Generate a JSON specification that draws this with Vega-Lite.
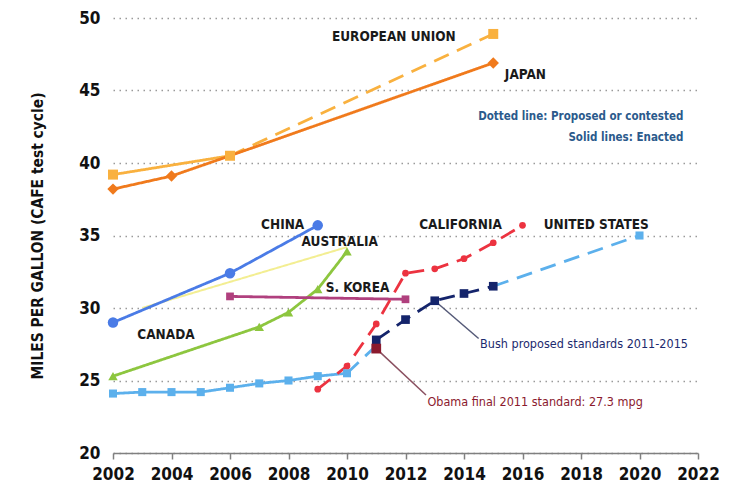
{
  "$schema": "https://vega.github.io/schema/vega-lite/v6.json",
  "width": 585,
  "height": 435,
  "autosize": "none",
  "padding": {"left": 113, "top": 18, "right": 38, "bottom": 43},
  "background": "white",
  "config": {
    "view": {"stroke": null},
    "font": "DejaVu Sans Condensed, Liberation Sans, sans-serif"
  },
  "datasets": {
    "lines": [
      {"s": "EU", "g": "EU1", "d": "solid", "year": 2002, "mpg": 39.2},
      {"s": "EU", "g": "EU1", "d": "solid", "year": 2006, "mpg": 40.5},
      {"s": "EU", "g": "EU2", "d": "dashed", "year": 2006, "mpg": 40.5},
      {"s": "EU", "g": "EU2", "d": "dashed", "year": 2015, "mpg": 48.9},
      {"s": "Japan", "g": "JP", "d": "solid", "year": 2002, "mpg": 38.2},
      {"s": "Japan", "g": "JP", "d": "solid", "year": 2004, "mpg": 39.1},
      {"s": "Japan", "g": "JP", "d": "solid", "year": 2006, "mpg": 40.5},
      {"s": "Japan", "g": "JP", "d": "solid", "year": 2015, "mpg": 46.9},
      {"s": "Australia", "g": "AU", "d": "solid", "year": 2003, "mpg": 30.0},
      {"s": "Australia", "g": "AU", "d": "solid", "year": 2010, "mpg": 34.2},
      {"s": "China", "g": "CN", "d": "solid", "year": 2002, "mpg": 29.0},
      {"s": "China", "g": "CN", "d": "solid", "year": 2006, "mpg": 32.4},
      {"s": "China", "g": "CN", "d": "solid", "year": 2009, "mpg": 35.7},
      {"s": "Canada", "g": "CA", "d": "solid", "year": 2002, "mpg": 25.3},
      {"s": "Canada", "g": "CA", "d": "solid", "year": 2007, "mpg": 28.7},
      {"s": "Canada", "g": "CA", "d": "solid", "year": 2008, "mpg": 29.7},
      {"s": "Canada", "g": "CA", "d": "solid", "year": 2009, "mpg": 31.3},
      {"s": "Canada", "g": "CA", "d": "solid", "year": 2010, "mpg": 33.9},
      {"s": "SKorea", "g": "KR", "d": "solid", "year": 2006, "mpg": 30.8},
      {"s": "SKorea", "g": "KR", "d": "solid", "year": 2012, "mpg": 30.6},
      {"s": "US", "g": "US1", "d": "solid", "year": 2002, "mpg": 24.1},
      {"s": "US", "g": "US1", "d": "solid", "year": 2003, "mpg": 24.2},
      {"s": "US", "g": "US1", "d": "solid", "year": 2004, "mpg": 24.2},
      {"s": "US", "g": "US1", "d": "solid", "year": 2005, "mpg": 24.2},
      {"s": "US", "g": "US1", "d": "solid", "year": 2006, "mpg": 24.5},
      {"s": "US", "g": "US1", "d": "solid", "year": 2007, "mpg": 24.8},
      {"s": "US", "g": "US1", "d": "solid", "year": 2008, "mpg": 25.0},
      {"s": "US", "g": "US1", "d": "solid", "year": 2009, "mpg": 25.3},
      {"s": "US", "g": "US1", "d": "solid", "year": 2010, "mpg": 25.5},
      {"s": "US", "g": "US2", "d": "dashed", "year": 2010, "mpg": 25.5},
      {"s": "US", "g": "US2", "d": "dashed", "year": 2011, "mpg": 27.4},
      {"s": "US", "g": "US3", "d": "dashed", "year": 2015, "mpg": 31.5},
      {"s": "US", "g": "US3", "d": "dashed", "year": 2020, "mpg": 35.0},
      {"s": "Bush", "g": "BU", "d": "dashed", "year": 2011, "mpg": 27.8},
      {"s": "Bush", "g": "BU", "d": "dashed", "year": 2012, "mpg": 29.2},
      {"s": "Bush", "g": "BU", "d": "dashed", "year": 2013, "mpg": 30.5},
      {"s": "Bush", "g": "BU", "d": "dashed", "year": 2014, "mpg": 31.0},
      {"s": "Bush", "g": "BU", "d": "dashed", "year": 2015, "mpg": 31.5},
      {"s": "California", "g": "CAL", "d": "dashed", "year": 2009, "mpg": 24.4},
      {"s": "California", "g": "CAL", "d": "dashed", "year": 2010, "mpg": 26.0},
      {"s": "California", "g": "CAL", "d": "dashed", "year": 2011, "mpg": 28.9},
      {"s": "California", "g": "CAL", "d": "dashed", "year": 2012, "mpg": 32.4},
      {"s": "California", "g": "CAL", "d": "dashed", "year": 2013, "mpg": 32.7},
      {"s": "California", "g": "CAL", "d": "dashed", "year": 2014, "mpg": 33.4},
      {"s": "California", "g": "CAL", "d": "dashed", "year": 2015, "mpg": 34.5},
      {"s": "California", "g": "CAL", "d": "dashed", "year": 2016, "mpg": 35.7}
    ],
    "points": [
      {"s": "EU", "year": 2002, "mpg": 39.2},
      {"s": "EU", "year": 2006, "mpg": 40.5},
      {"s": "EU", "year": 2015, "mpg": 48.9},
      {"s": "Japan", "year": 2002, "mpg": 38.2},
      {"s": "Japan", "year": 2004, "mpg": 39.1},
      {"s": "Japan", "year": 2015, "mpg": 46.9},
      {"s": "China", "year": 2002, "mpg": 29.0},
      {"s": "China", "year": 2006, "mpg": 32.4},
      {"s": "China", "year": 2009, "mpg": 35.7},
      {"s": "Canada", "year": 2002, "mpg": 25.3},
      {"s": "Canada", "year": 2007, "mpg": 28.7},
      {"s": "Canada", "year": 2008, "mpg": 29.7},
      {"s": "Canada", "year": 2009, "mpg": 31.3},
      {"s": "Canada", "year": 2010, "mpg": 33.9},
      {"s": "SKorea", "year": 2006, "mpg": 30.8},
      {"s": "SKorea", "year": 2012, "mpg": 30.6},
      {"s": "US", "year": 2002, "mpg": 24.1},
      {"s": "US", "year": 2003, "mpg": 24.2},
      {"s": "US", "year": 2004, "mpg": 24.2},
      {"s": "US", "year": 2005, "mpg": 24.2},
      {"s": "US", "year": 2006, "mpg": 24.5},
      {"s": "US", "year": 2007, "mpg": 24.8},
      {"s": "US", "year": 2008, "mpg": 25.0},
      {"s": "US", "year": 2009, "mpg": 25.3},
      {"s": "US", "year": 2010, "mpg": 25.5},
      {"s": "US", "year": 2020, "mpg": 35.0},
      {"s": "Bush", "year": 2011, "mpg": 27.8},
      {"s": "Bush", "year": 2012, "mpg": 29.2},
      {"s": "Bush", "year": 2013, "mpg": 30.5},
      {"s": "Bush", "year": 2014, "mpg": 31.0},
      {"s": "Bush", "year": 2015, "mpg": 31.5},
      {"s": "California", "year": 2009, "mpg": 24.4},
      {"s": "California", "year": 2010, "mpg": 26.0},
      {"s": "California", "year": 2011, "mpg": 28.9},
      {"s": "California", "year": 2012, "mpg": 32.4},
      {"s": "California", "year": 2013, "mpg": 32.7},
      {"s": "California", "year": 2014, "mpg": 33.4},
      {"s": "California", "year": 2015, "mpg": 34.5},
      {"s": "California", "year": 2016, "mpg": 35.7},
      {"s": "Obama", "year": 2011, "mpg": 27.2}
    ],
    "labels": [
      {"k": "country", "x": 2011.6, "y": 48.7, "text": "EUROPEAN UNION"},
      {"k": "country", "x": 2016.1, "y": 46.1, "text": "JAPAN"},
      {"k": "country", "x": 2007.8, "y": 35.75, "text": "CHINA"},
      {"k": "country", "x": 2009.75, "y": 34.55, "text": "AUSTRALIA"},
      {"k": "country", "x": 2013.88, "y": 35.7, "text": "CALIFORNIA"},
      {"k": "country", "x": 2018.52, "y": 35.7, "text": "UNITED STATES"},
      {"k": "country", "x": 2010.36, "y": 31.35, "text": "S. KOREA"},
      {"k": "country", "x": 2003.81, "y": 28.15, "text": "CANADA"},
      {"k": "note", "x": 2021.5, "y": 43.2, "text": "Dotted line: Proposed or contested"},
      {"k": "note", "x": 2021.5, "y": 41.75, "text": "Solid lines: Enacted"},
      {"k": "bush", "x": 2014.55, "y": 27.5, "text": "Bush proposed standards 2011-2015"},
      {"k": "obama", "x": 2012.75, "y": 23.55, "text": "Obama final 2011 standard: 27.3 mpg"}
    ],
    "leaders": [
      {"k": "bush", "x": 2013, "y": 30.5, "x2": 2014.5, "y2": 27.9},
      {"k": "obama", "x": 2011, "y": 27.2, "x2": 2012.7, "y2": 24.0}
    ]
  },
  "layer": [
    {
      "data": {"name": "leaders"},
      "mark": {"type": "rule", "strokeWidth": 1.5},
      "encoding": {
        "x": {"field": "x", "type": "quantitative", "scale": {"domain": [2002, 2022]}},
        "y": {"field": "y", "type": "quantitative", "scale": {"domain": [20, 50]}},
        "x2": {"field": "x2"},
        "y2": {"field": "y2"},
        "color": {"condition": {"test": "datum.k === 'bush'", "value": "#555a78"}, "value": "#8a5060"}
      }
    },
    {
      "data": {"name": "lines"},
      "mark": {"type": "line", "strokeCap": "butt"},
      "encoding": {
        "x": {
          "field": "year", "type": "quantitative",
          "scale": {"domain": [2002, 2022], "nice": false, "zero": false},
          "axis": {
            "values": [2002, 2004, 2006, 2008, 2010, 2012, 2014, 2016, 2018, 2020, 2022],
            "format": "d", "title": null, "grid": false, "labelOverlap": false, "labelFlush": false, "labelBound": false,
            "domainColor": "#808080", "domainWidth": 1.5,
            "tickColor": "#808080", "tickWidth": 1.5, "tickSize": 6,
            "labelFontSize": 17, "labelFontWeight": "bold", "labelColor": "#111",
            "labelPadding": 7
          }
        },
        "y": {
          "field": "mpg", "type": "quantitative",
          "scale": {"domain": [20, 50], "nice": false, "zero": false},
          "axis": {
            "values": [20, 25, 30, 35, 40, 45, 50],
            "title": "MILES PER GALLON (CAFE test cycle)",
            "titleFontSize": 15.4, "titleFontWeight": "bold", "titleColor": "#111",
            "titlePadding": 33,
            "domain": false, "ticks": false, "labelOverlap": false,
            "grid": true, "gridColor": "#9a9a9a", "gridDash": [1.5, 4.5], "gridWidth": 1.5,
            "labelFontSize": 17, "labelFontWeight": "bold", "labelColor": "#111",
            "labelPadding": 13
          }
        },
        "detail": {"field": "g"},
        "color": {
          "field": "s", "type": "nominal", "legend": null,
          "scale": {
            "domain": ["EU", "Japan", "China", "Australia", "Canada", "SKorea", "US", "Bush", "California", "Obama"],
            "range": ["#F9B13F", "#F07A1C", "#4A7BE6", "#F3EE92", "#8DC63F", "#B0407E", "#5CB0EC", "#14246B", "#EC3340", "#8B1A2E"]
          }
        },
        "strokeDash": {
          "field": "d", "type": "nominal", "legend": null,
          "scale": {"domain": ["solid", "dashed"], "range": [[1, 0], [16, 9]]}
        },
        "strokeWidth": {"condition": {"test": "datum.s === 'Australia'", "value": 2}, "value": 2.8}
      }
    },
    {
      "data": {"name": "points"},
      "mark": {"type": "point", "filled": true, "opacity": 1},
      "encoding": {
        "x": {"field": "year", "type": "quantitative"},
        "y": {"field": "mpg", "type": "quantitative"},
        "color": {"field": "s", "type": "nominal", "legend": null},
        "shape": {
          "field": "s", "type": "nominal", "legend": null,
          "scale": {
            "domain": ["EU", "Japan", "China", "Canada", "SKorea", "US", "Bush", "California", "Obama"],
            "range": ["square", "diamond", "circle", "triangle-up", "square", "square", "square", "circle", "square"]
          }
        },
        "size": {
          "field": "s", "type": "nominal", "legend": null,
          "scale": {
            "type": "ordinal",
            "domain": ["EU", "Japan", "China", "Canada", "SKorea", "US", "Bush", "California", "Obama"],
            "range": [100, 130, 110, 90, 60, 65, 75, 45, 95]
          }
        }
      }
    },
    {
      "data": {"name": "labels"},
      "transform": [{"filter": "datum.k === 'country'"}],
      "mark": {"type": "text", "fontWeight": "bold", "fontSize": 13.5, "align": "center", "baseline": "middle", "color": "#1a1a1a"},
      "encoding": {
        "x": {"field": "x", "type": "quantitative"},
        "y": {"field": "y", "type": "quantitative"},
        "text": {"field": "text"}
      }
    },
    {
      "data": {"name": "labels"},
      "transform": [{"filter": "datum.k === 'note'"}],
      "mark": {"type": "text", "fontWeight": "bold", "fontSize": 11.5, "align": "right", "baseline": "middle", "color": "#2B5A8C"},
      "encoding": {
        "x": {"field": "x", "type": "quantitative"},
        "y": {"field": "y", "type": "quantitative"},
        "text": {"field": "text"}
      }
    },
    {
      "data": {"name": "labels"},
      "transform": [{"filter": "datum.k === 'bush'"}],
      "mark": {"type": "text", "fontSize": 12.5, "align": "left", "baseline": "middle", "color": "#1C2A6E"},
      "encoding": {
        "x": {"field": "x", "type": "quantitative"},
        "y": {"field": "y", "type": "quantitative"},
        "text": {"field": "text"}
      }
    },
    {
      "data": {"name": "labels"},
      "transform": [{"filter": "datum.k === 'obama'"}],
      "mark": {"type": "text", "fontSize": 12.5, "align": "left", "baseline": "middle", "color": "#8B1A2E"},
      "encoding": {
        "x": {"field": "x", "type": "quantitative"},
        "y": {"field": "y", "type": "quantitative"},
        "text": {"field": "text"}
      }
    }
  ]
}
